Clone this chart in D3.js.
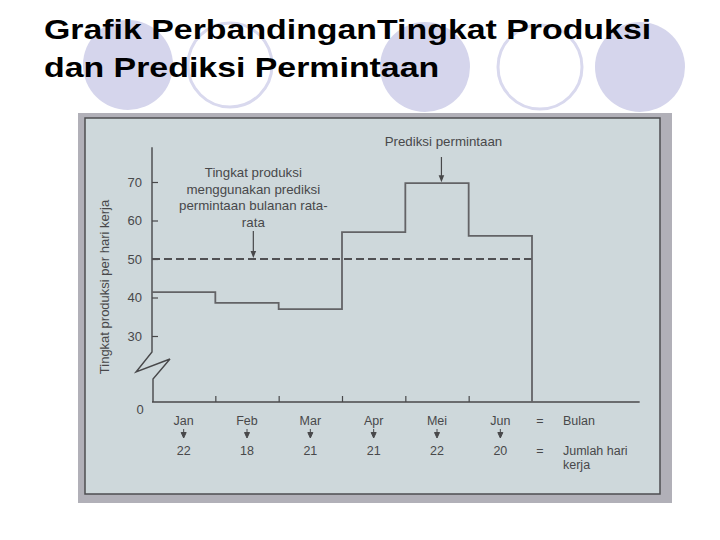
<!DOCTYPE html>
<html>
<head>
<meta charset="utf-8">
<script src="https://cdn.jsdelivr.net/npm/d3@7"></script>
<style>
  body { margin: 0; background: #fff; }
  text { font-family: "Liberation Sans", Arial, sans-serif; }
</style>
</head>
<body>
<svg id="slide" width="720" height="540"></svg>
<script>
// chart data
const months = ["Jan", "Feb", "Mar", "Apr", "Mei", "Jun"];
const workDays = [22, 18, 21, 21, 22, 20];
const dailyProduction = [41.4, 38.6, 37, 57, 69.7, 56];   // prediksi permintaan per hari kerja
const averageLevel = 50;                                // produksi rata-rata
const yTicks = [30, 40, 50, 60, 70];
const titleLines = ["Grafik PerbandinganTingkat Produksi", "dan Prediksi Permintaan"];
const noteLevel = ["Tingkat produksi", "menggunakan prediksi", "permintaan bulanan rata-", "rata"];

const svg = d3.select("#slide");

// slide decoration: lavender circles behind the title
const deco = [
  {cx: 128, cy: 65, fill: true},
  {cx: 230, cy: 65, fill: false},
  {cx: 425, cy: 67, fill: true},
  {cx: 540, cy: 67, fill: false},
  {cx: 640, cy: 67, fill: true}
];
svg.append("g").selectAll("ellipse")
  .data(deco)
  .join("ellipse")
  .attr("cx", d => d.cx)
  .attr("cy", d => d.cy)
  .attr("rx", d => d.fill ? 45 : 42)
  .attr("ry", d => d.fill ? 45 : 42)
  .attr("fill", d => d.fill ? "#d5d5ec" : "#fff")
  .attr("stroke", d => d.fill ? "none" : "#d9d9ee")
  .attr("stroke-width", 3);

// title is drawn wide, like the stretched slide font
svg.append("g").selectAll("text")
  .data(titleLines)
  .join("text")
  .attr("transform", (d, i) => `translate(44,${39 + i * 38}) scale(1.21,1)`)
  .attr("font-size", 28)
  .attr("font-weight", "bold")
  .attr("fill", "#000")
  .text(d => d);

// scanned figure background
svg.append("rect")
  .attr("x", 78).attr("y", 113).attr("width", 594).attr("height", 390)
  .attr("fill", "#b1b0b8");
svg.append("rect")
  .attr("x", 85).attr("y", 118).attr("width", 575).attr("height", 376)
  .attr("fill", "#ced8db")
  .attr("stroke", "#4d4d50")
  .attr("stroke-width", 1.5);

const ink = "#48484a";
const x = d3.scaleLinear().domain([0, 6]).range([152, 532]);
// broken axis: 0..30 squeezed below the break
const y = d3.scaleLinear().domain([0, 30, 70]).range([402, 336, 182]);

const plot = svg.append("g");

// y axis ticks + labels
const yAxis = plot.append("g")
  .attr("transform", `translate(${x(0)},0)`)
  .call(d3.axisLeft(y).tickValues(yTicks).tickSize(-6).tickPadding(10));
yAxis.select(".domain").remove();
yAxis.selectAll("line").attr("stroke", ink).attr("stroke-width", 1.2);
yAxis.selectAll("text").attr("font-size", 13).attr("fill", ink)
  .attr("font-family", "'Liberation Sans', Arial, sans-serif");

// y spine with break zigzag
const x0 = x(0), yb = y(30) + 16;
plot.append("path")
  .attr("d", `M${x0},${y(79)}V${yb}L${x0 - 16},${yb + 20}L${x0 + 18},${yb + 7}L${x0 + 1},${yb + 27}V${y(0)}`)
  .attr("fill", "none").attr("stroke", ink).attr("stroke-width", 1.4);

plot.append("text")
  .attr("x", x0 - 12).attr("y", y(0) + 12)
  .attr("text-anchor", "middle")
  .attr("font-size", 13).attr("fill", ink)
  .text("0");

// x axis baseline and month ticks
const xAxis = plot.append("g")
  .attr("transform", `translate(0,${y(0)})`)
  .call(d3.axisBottom(x).tickValues([1, 2, 3, 4, 5]).tickSize(-6).tickFormat(""));
xAxis.select(".domain").remove();
xAxis.selectAll("line").attr("stroke", ink).attr("stroke-width", 1.2);
plot.append("line")
  .attr("x1", x(0)).attr("x2", x(7.7))
  .attr("y1", y(0)).attr("y2", y(0))
  .attr("stroke", ink).attr("stroke-width", 1.4);

// average production (dashed)
plot.append("line")
  .attr("x1", x(0)).attr("x2", x(6))
  .attr("y1", y(averageLevel)).attr("y2", y(averageLevel))
  .attr("stroke", "#505053").attr("stroke-width", 2.2)
  .attr("stroke-dasharray", "8,4");

// demand forecast step line
const stepPts = dailyProduction.map((v, i) => [i, v]);
stepPts.push([6, dailyProduction[5]], [6, 0]);
plot.append("path")
  .datum(stepPts)
  .attr("d", d3.line().x(d => x(d[0])).y(d => y(d[1])).curve(d3.curveStepAfter))
  .attr("fill", "none").attr("stroke", "#636366").attr("stroke-width", 1.8);

// y axis title
plot.append("text")
  .attr("transform", `translate(109,287) rotate(-90)`)
  .attr("text-anchor", "middle")
  .attr("font-size", 13).attr("fill", ink)
  .text("Tingkat produksi per hari kerja");

// month labels, markers and working days
const mid = d3.range(months.length).map(i => x(i + 0.5));
plot.append("g").selectAll("text")
  .data(months)
  .join("text")
  .attr("x", (d, i) => mid[i]).attr("y", 425)
  .attr("text-anchor", "middle").attr("font-size", 12.5).attr("fill", ink)
  .text(d => d);
plot.append("g").selectAll("path")
  .data(months)
  .join("path")
  .attr("d", (d, i) => `M${mid[i]},429V433M${mid[i] - 2.5},432.5H${mid[i] + 2.5}L${mid[i]},438Z`)
  .attr("stroke", ink).attr("stroke-width", 1).attr("fill", ink);
plot.append("g").selectAll("text")
  .data(workDays)
  .join("text")
  .attr("x", (d, i) => mid[i]).attr("y", 455)
  .attr("text-anchor", "middle").attr("font-size", 12.5).attr("fill", ink)
  .text(d => d);

const legendX = x(6) + 8;
[["Bulan", 425], ["Jumlah hari", 455]].forEach(([t, yy]) => {
  plot.append("text").attr("x", legendX).attr("y", yy)
    .attr("text-anchor", "middle").attr("font-size", 12.5).attr("fill", ink).text("=");
  plot.append("text").attr("x", legendX + 23).attr("y", yy)
    .attr("font-size", 12.5).attr("fill", ink).text(t);
});
plot.append("text").attr("x", legendX + 23).attr("y", 469)
  .attr("font-size", 12.5).attr("fill", ink).text("kerja");

// annotations with arrows
function arrow(ax, yFrom, yTo) {
  plot.append("line")
    .attr("x1", ax).attr("x2", ax).attr("y1", yFrom).attr("y2", yTo - 6)
    .attr("stroke", ink).attr("stroke-width", 1.2);
  plot.append("path")
    .attr("d", `M${ax - 2.8},${yTo - 8}H${ax + 2.8}L${ax},${yTo - 1}Z`)
    .attr("fill", ink);
}

const noteX = x(1.6);
plot.append("g").selectAll("text")
  .data(noteLevel)
  .join("text")
  .attr("x", noteX).attr("y", (d, i) => 177 + i * 16.5)
  .attr("text-anchor", "middle").attr("font-size", 13.3).attr("fill", ink)
  .text(d => d);
arrow(noteX, 231, y(averageLevel));

const noteX2 = x(4.57);
plot.append("text")
  .attr("x", noteX2 + 2).attr("y", 146)
  .attr("text-anchor", "middle").attr("font-size", 13.3).attr("fill", ink)
  .text("Prediksi permintaan");
arrow(noteX2, 157, y(dailyProduction[4]));
</script>
</body>
</html>
